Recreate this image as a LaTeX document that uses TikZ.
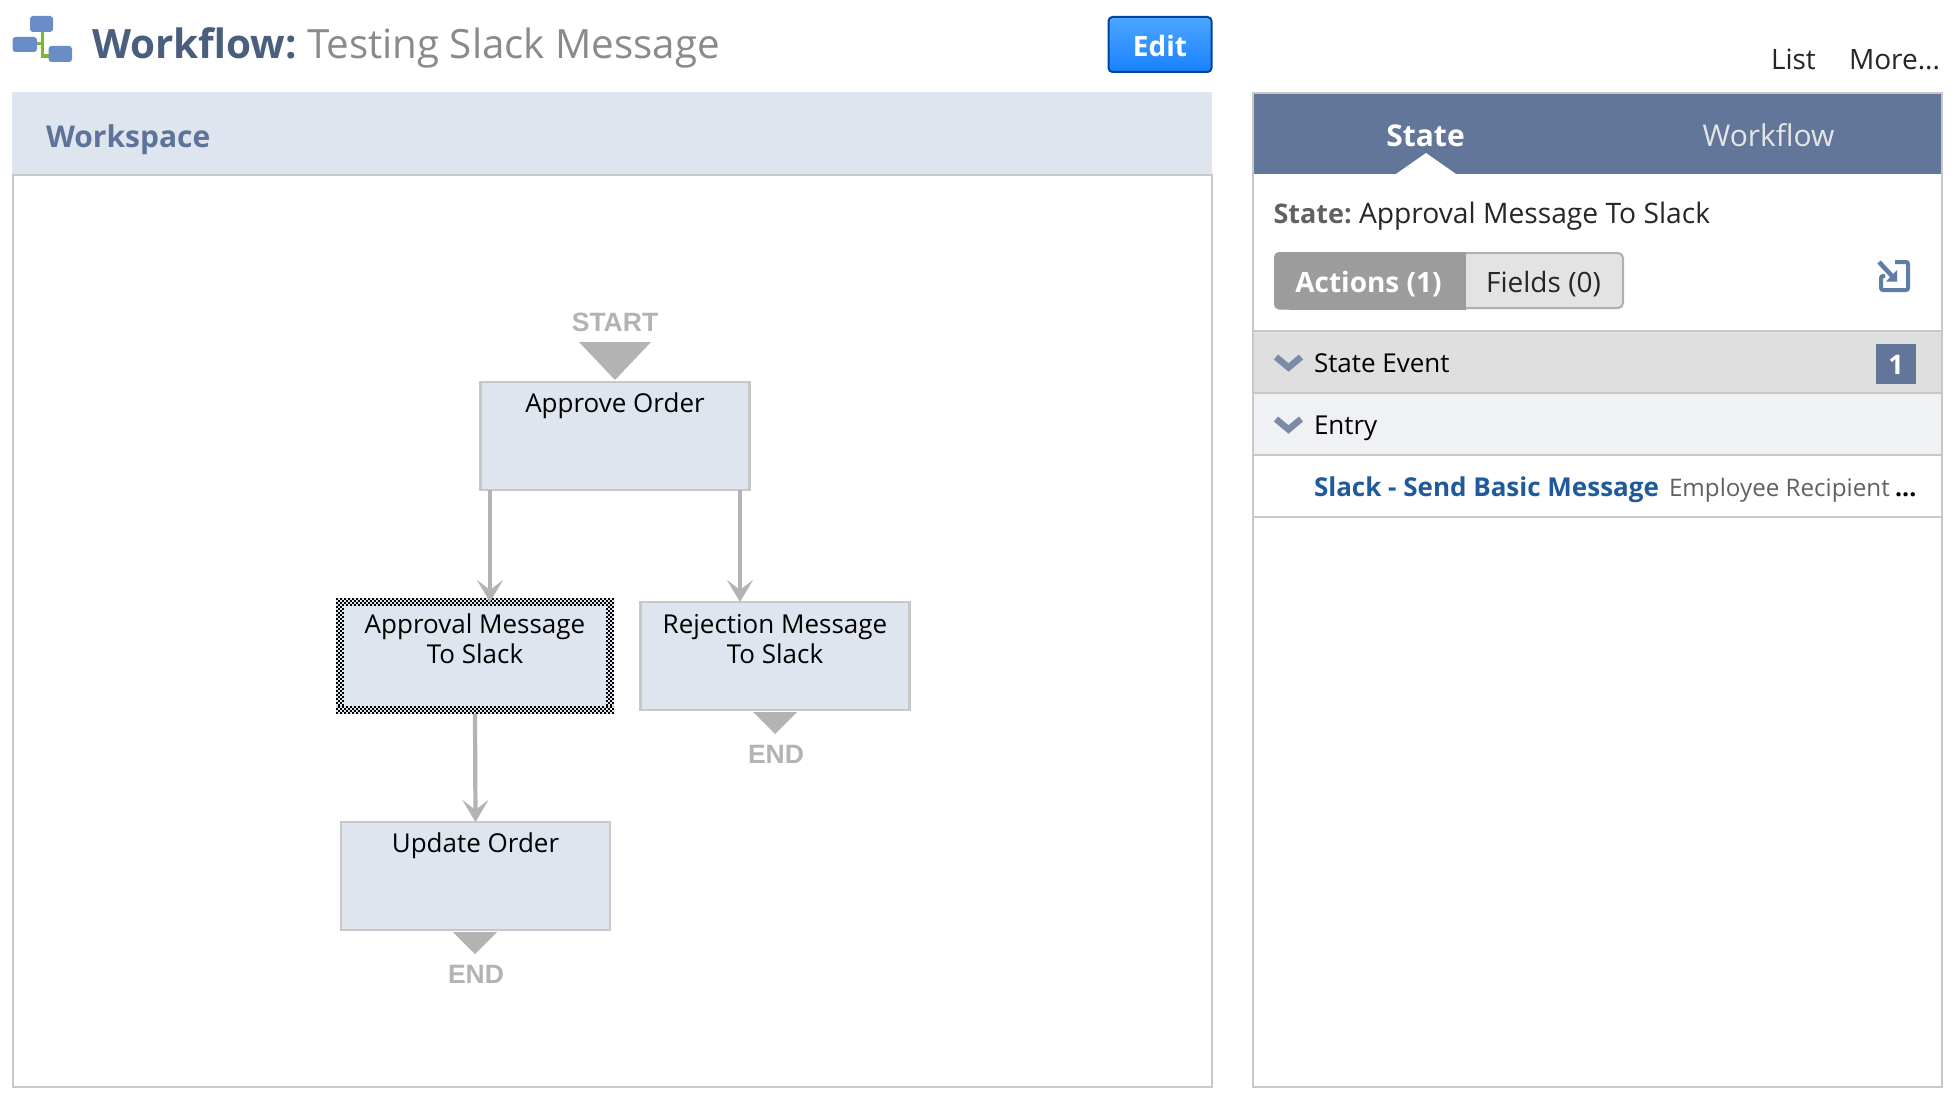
\documentclass[tikz,border=0pt]{standalone}
\usepackage{fontspec}
\setmainfont{Open Sans}
\newfontfamily\arialfont{Liberation Sans}
\usetikzlibrary{arrows.meta}
\definecolor{bandblue}{HTML}{DFE5EE}
\definecolor{hdrblue}{HTML}{62769A}
\definecolor{frameg}{HTML}{C8C8C8}
\definecolor{flowg}{HTML}{B3B3B3}
\definecolor{titleblue}{HTML}{4A5F7E}
\definecolor{spaceblue}{HTML}{5D7399}
\definecolor{iconblue}{HTML}{6A8CC7}
\definecolor{icongreen}{HTML}{7CB82F}
\definecolor{linkblue}{HTML}{1F5A9C}
\definecolor{chevblue}{HTML}{7B8BA5}
\definecolor{popblue}{HTML}{5F7EA6}
\definecolor{entryrow}{HTML}{F0F1F5}
\tikzset{
  x=1pt,y=-1pt,
  lbl/.style={anchor=base west,inner sep=0pt,outer sep=0pt},
  lblc/.style={anchor=base,inner sep=0pt,outer sep=0pt},
  statebox/.style={draw=frameg,line width=2.5pt,fill=bandblue,minimum width=269pt,minimum height=108pt,inner sep=0pt,outer sep=0pt},
  statetext/.style={lblc,font=\fontsize{26}{30}\selectfont,align=center,text=black},
  flowtext/.style={anchor=center,inner sep=0pt,font=\arialfont\bfseries\fontsize{26.5}{26}\selectfont,text=flowg},
  flowtri/.style={fill=flowg,draw=none},
  flowarrow/.style={draw=flowg,line width=4.2pt,-{Stealth[length=22pt,width=26pt,inset=10pt]}},
  iconbox/.style={fill=iconblue,draw=none,rounded corners=3pt},
  chev/.style={draw=chevblue,line width=6.5pt,line join=miter},
  sepline/.style={draw=frameg,line width=2pt},
  checkrow/.style={line width=2pt,dash pattern=on 2pt off 2pt,draw=black},
}
\begin{document}
\begin{tikzpicture}
\useasboundingbox (0,0) rectangle (1956,1102);
\fill[white] (0,0) rectangle (1956,1102);
% app icon
\draw[icongreen,line width=3.5pt] (42.5,30) -- (42.5,56) -- (50,56) (36,43.5) -- (42.5,43.5);
\fill[iconbox] (30,16) rectangle (53,32);
\fill[iconbox] (12.5,37) rectangle (37,52);
\fill[iconbox] (48.5,46) rectangle (72,62);
% title
\node[lbl,font=\bfseries\fontsize{40.4}{44}\selectfont,text=titleblue] (ttl) at (92,58.5) {Workflow:};
\node[lbl,font=\fontsize{40.3}{44}\selectfont,text=black!46] (ttl2) at (307,58.5) {Testing Slack Message};
% edit button
\node[draw=blue!55!cyan!60!black,line width=2pt,top color=blue!50!cyan!70!white,bottom color=blue!55!cyan!90!white,rounded corners=4pt,minimum width=103pt,minimum height=55pt,inner sep=0pt] (edit) at (1160,44.5) {};
\node[lblc,font=\bfseries\fontsize{28}{30}\selectfont,text=white] (editt) at (1160,57) {Edit};
\node[lbl,font=\fontsize{28}{30}\selectfont,text=black!85] (list) at (1771,70) {List};
\node[lbl,font=\fontsize{28}{30}\selectfont,text=black!85] (more) at (1849,70) {More...};
% workspace
\fill[bandblue] (12,92) rectangle (1212,175);
\draw[frameg,line width=2pt] (13,175) rectangle (1212,1087);
\node[lbl,font=\bfseries\fontsize{30}{32}\selectfont,text=spaceblue] (ws) at (46,148) {Workspace};
% states
\node[statebox] (approve) at (615,436) {};
\node[statebox] (reject) at (775,656) {};
\node[statebox] (update) at (475.5,876) {};
\node[fill=bandblue,draw=none,minimum width=278pt,minimum height=116pt,inner sep=0pt,outer sep=0pt] (approval) at (475,656) {};
% dotted selection border of the selected state, 4 rows of 2pt cells
\foreach \i in {0,1,2,3}{
  \pgfmathsetmacro{\ph}{mod(\i,2)*2}
  \pgfmathsetmacro{\o}{2*\i+1}
  \draw[checkrow,dash phase=\ph pt] (336,598+\o) -- (614,598+\o);
  \draw[checkrow,dash phase=\ph pt] (336,714-\o) -- (614,714-\o);
  \draw[checkrow,dash phase=\ph pt] (336+\o,606) -- (336+\o,706);
  \draw[checkrow,dash phase=\ph pt] (614-\o,606) -- (614-\o,706);
}
\node[statetext] (t1) at (615,412.5) {Approve Order};
\node[statetext] (t2) at (475,663.3) {Approval Message\\To Slack};
\node[statetext] (t3) at (775,663.3) {Rejection Message\\To Slack};
\node[statetext] (t4) at (475.5,852.5) {Update Order};
% connectors
\coordinate (p1) at ([xshift=-125pt]approve.south);
\coordinate (p2) at ([xshift=125pt]approve.south);
\draw[flowarrow] (p1) -- (p1 |- reject.north);
\draw[flowarrow] (p2) -- (p2 |- reject.north);
\draw[flowarrow] (approval.south) -- (update.north);
% start/end
\node[flowtext] (start) at (615,322.5) {START};
\fill[flowtri] (579,342) -- (651,342) -- (615,380) -- cycle;
\fill[flowtri] (753,712) -- (797,712) -- (775,734) -- cycle;
\node[flowtext] (end1) at (776,754) {END};
\fill[flowtri] (453,932) -- (497,932) -- (475,954) -- cycle;
\node[flowtext] (end2) at (476,974) {END};
% right panel
\fill[hdrblue] (1253,93) rectangle (1941,174);
\draw[frameg,line width=2pt] (1253,93) rectangle (1942,1087);
\fill[white] (1396,174) -- (1426,153) -- (1456,174) -- cycle;
\node[lblc,font=\bfseries\fontsize{30}{32}\selectfont,text=white] (tabs) at (1425.5,147) {State};
\node[lblc,font=\fontsize{30}{32}\selectfont,text=black!10] (tabw) at (1768.5,147) {Workflow};
\node[lbl,font=\bfseries\fontsize{27}{30}\selectfont,text=black!62] (slab) at (1273.5,223) {State:};
\node[lbl,font=\fontsize{28.2}{30}\selectfont,text=black!85] (sval) at (1359,223) {Approval Message To Slack};
% toggle
\fill[black!11,rounded corners=5pt] (1274,252) rectangle (1623,309);
\draw[black!31,line width=2pt,rounded corners=5pt] (1275,253) rectangle (1623,308);
\fill[black!39,rounded corners=5pt] (1274,252) -- (1300,252) -- (1300,309.5) -- (1274,309.5) -- cycle;
\fill[black!39] (1290,252) rectangle (1466,309.5);
\node[lblc,font=\bfseries\fontsize{28}{30}\selectfont,text=white] (act) at (1368.5,292) {Actions (1)};
\node[lblc,font=\fontsize{28}{30}\selectfont,text=black!85] (fld) at (1543.5,292) {Fields (0)};
% popout icon
\draw[popblue,line width=4pt,rounded corners=2pt] (1895,262) -- (1908,262) -- (1908,290) -- (1881,290) -- (1881,276) -- (1885,276);
\draw[popblue,line width=4.5pt] (1879,262) -- (1893,277);
\fill[popblue] (1886,281.5) -- (1897,281.5) -- (1897,270) -- cycle;
% rows
\fill[black!12.5] (1254,331) rectangle (1941,393);
\fill[entryrow] (1254,393) rectangle (1941,455);
\draw[sepline] (1253,331) -- (1942,331);
\draw[sepline] (1253,393) -- (1942,393);
\draw[sepline] (1253,455) -- (1942,455);
\draw[sepline] (1253,517) -- (1942,517);
\draw[chev] (1276,357) -- (1288.5,367.5) -- (1301,357);
\draw[chev] (1276,419) -- (1288.5,429.5) -- (1301,419);
\node[lbl,font=\fontsize{26}{30}\selectfont,text=black] (se) at (1314,372) {State Event};
\node[lbl,font=\fontsize{26}{30}\selectfont,text=black] (en) at (1314,434) {Entry};
\node[fill=hdrblue,minimum width=40pt,minimum height=40pt,inner sep=0pt] (badge) at (1896,364) {};
\node[lblc,font=\bfseries\fontsize{27}{30}\selectfont,text=white] (bt) at (1896,374) {1};
\node[lbl,font=\bfseries\fontsize{26}{30}\selectfont,text=linkblue] (sl) at (1314,496) {Slack - Send Basic Message};
\node[lbl,font=\fontsize{24.2}{30}\selectfont,text=black!62] (emp) at (1669,496) {Employee Recipient};
\node[lbl,font=\bfseries\fontsize{25}{30}\selectfont,text=black] (dots) at (1895,496) {...};
\end{tikzpicture}
\end{document}
